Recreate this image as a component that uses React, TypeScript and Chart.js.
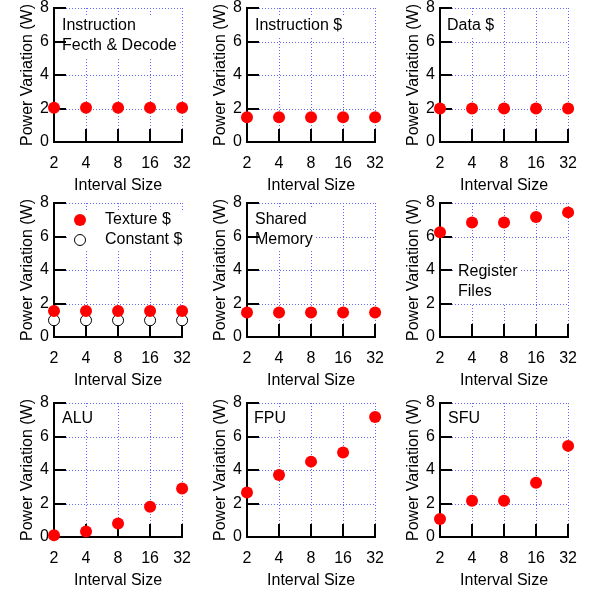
import React, { useEffect, useRef } from 'react';
import { Chart, registerables } from 'chart.js';

Chart.register(...registerables);

// ---- data ----
const intervalSizes = ['2', '4', '8', '16', '32'];
const yTickMin = 0;
const yTickMax = 8;
const yTickStep = 2;

const instrFetchDecode = [2.05, 2.05, 2.05, 2.05, 2.05];
const instrCache = [1.48, 1.48, 1.48, 1.48, 1.48];
const dataCache = [2.0, 2.0, 2.0, 2.0, 2.0];
const textureCache = [1.55, 1.55, 1.55, 1.55, 1.55];
const constantCache = [1.0, 1.0, 1.0, 1.0, 1.0];
const sharedMemory = [1.46, 1.46, 1.46, 1.46, 1.46];
const registerFiles = [6.25, 6.83, 6.83, 7.16, 7.44];
const aluValues = [0.1, 0.33, 0.8, 1.8, 2.9];
const fpuValues = [2.66, 3.7, 4.5, 5.04, 7.16];
const sfuValues = [1.08, 2.16, 2.16, 3.24, 5.44];

// ---- layout / style ----
const FONT = '"Liberation Sans", Arial, Helvetica, sans-serif';
const colAxisX = [54, 247, 440];
const rowTopY = [8, 203, 403];
const plotW = 135;
const plotH = 134;
const yAxisW = 46;
const xAxisH = 56;
const padTop = 16;
const padRight = 14;
const GRID = 'rgb(100,100,255)';
const RED = '#ff0000';

type Series = { label: string; data: number[]; hollow?: boolean };
type PanelDef = {
  col: number;
  row: number;
  series: Series[];
  note?: string[];
  noteX?: number;
  noteY?: number;
  legend?: boolean;
  legendX?: number;
  legendY?: number;
};

const panels: PanelDef[] = [
  { col: 0, row: 0, series: [{ label: 'Instruction Fecth & Decode', data: instrFetchDecode }], note: ['Instruction', 'Fecth & Decode'], noteX: 8, noteY: 18 },
  { col: 1, row: 0, series: [{ label: 'Instruction $', data: instrCache }], note: ['Instruction $'], noteX: 8, noteY: 18 },
  { col: 2, row: 0, series: [{ label: 'Data $', data: dataCache }], note: ['Data $'], noteX: 7, noteY: 18 },
  {
    col: 0, row: 1,
    series: [
      { label: 'Texture $', data: textureCache },
      { label: 'Constant $', data: constantCache, hollow: true },
    ],
    legend: true, legendX: 26, legendY: 17,
  },
  { col: 1, row: 1, series: [{ label: 'Shared Memory', data: sharedMemory }], note: ['Shared', 'Memory'], noteX: 8, noteY: 17 },
  { col: 2, row: 1, series: [{ label: 'Register Files', data: registerFiles }], note: ['Register', 'Files'], noteX: 18, noteY: 69 },
  { col: 0, row: 2, series: [{ label: 'ALU', data: aluValues }], note: ['ALU'], noteX: 8, noteY: 16 },
  { col: 1, row: 2, series: [{ label: 'FPU', data: fpuValues }], note: ['FPU'], noteX: 7, noteY: 16 },
  { col: 2, row: 2, series: [{ label: 'SFU', data: sfuValues }], note: ['SFU'], noteX: 8, noteY: 16 },
];

function seg(ctx: CanvasRenderingContext2D, x1: number, y1: number, x2: number, y2: number) {
  ctx.beginPath();
  ctx.moveTo(x1, y1);
  ctx.lineTo(x2, y2);
  ctx.stroke();
}

const decorPlugin = {
  id: 'decor',
  beforeDatasetsDraw(chart: any, _args: any, opts: any) {
    const { ctx, chartArea: ca, scales } = chart;
    const xs = scales.x;
    const ys = scales.y;
    const left = Math.round(ca.left);
    const right = Math.round(ca.right);
    const top = Math.round(ca.top);
    const bottom = Math.round(ca.bottom);
    ctx.save();

    // dotted grid
    ctx.setLineDash([1, 2]);
    ctx.lineWidth = 1;
    ctx.strokeStyle = GRID;
    xs.ticks.forEach((_t: any, i: number) => {
      if (i === 0) return;
      const px = Math.round(xs.getPixelForTick(i)) + 0.5;
      seg(ctx, px, top, px, bottom);
    });
    ys.ticks.forEach((t: any, i: number) => {
      if (t.value === yTickMin) return;
      const py = Math.round(ys.getPixelForTick(i)) + 0.5;
      seg(ctx, left, py, right + 1, py);
    });
    ctx.setLineDash([]);

    ctx.font = `16px ${FONT}`;
    ctx.textBaseline = 'middle';
    ctx.textAlign = 'left';
    const lh = 20;

    if (opts.note) {
      const lines: string[] = opts.note;
      const x = ca.left + opts.noteX;
      const y0 = ca.top + opts.noteY;
      const w = Math.max(...lines.map((l) => ctx.measureText(l).width));
      ctx.fillStyle = '#fff';
      ctx.fillRect(x - 3, y0 - 11, w + 6, (lines.length - 1) * lh + 22);
      ctx.fillStyle = '#000';
      lines.forEach((l, i) => ctx.fillText(l, x, y0 + i * lh));
    }

    if (opts.legend) {
      const dsets = chart.data.datasets;
      const sx = ca.left + opts.legendX;
      const sy = ca.top + opts.legendY;
      const tx = sx + 25;
      const w = Math.max(...dsets.map((d: any) => ctx.measureText(d.label).width));
      ctx.fillStyle = '#fff';
      ctx.fillRect(sx - 13, sy - 10, tx + w + 8 - (sx - 13), (dsets.length - 1) * lh + 20);
      dsets.forEach((d: any, i: number) => {
        const y = sy + i * lh;
        ctx.beginPath();
        ctx.arc(sx, y, d.pointRadius, 0, Math.PI * 2);
        ctx.fillStyle = d.pointBackgroundColor;
        ctx.fill();
        if (d.pointBorderWidth > 0) {
          ctx.lineWidth = d.pointBorderWidth;
          ctx.strokeStyle = d.pointBorderColor;
          ctx.stroke();
        }
        ctx.fillStyle = '#000';
        ctx.fillText(d.label, tx, y);
      });
    }

    // axes (left + bottom) and inner tick marks
    ctx.strokeStyle = '#000';
    ctx.lineWidth = 2;
    ctx.lineCap = 'butt';
    seg(ctx, left, top - 1, left, bottom + 1);
    seg(ctx, left - 1, bottom, right + 1, bottom);
    xs.ticks.forEach((_t: any, i: number) => {
      const px = Math.round(xs.getPixelForTick(i));
      seg(ctx, px, bottom, px, bottom - 13);
    });
    ys.ticks.forEach((_t: any, i: number) => {
      const py = Math.round(ys.getPixelForTick(i));
      seg(ctx, left, py, left + 12, py);
    });
    ctx.restore();
  },
};

function Panel({ def }: { def: PanelDef }) {
  const ref = useRef<HTMLCanvasElement>(null);
  useEffect(() => {
    if (!ref.current) return;
    const chart = new Chart(ref.current, {
      type: 'line',
      data: {
        labels: intervalSizes,
        datasets: def.series.map((s) => ({
          label: s.label,
          data: s.data,
          showLine: false,
          clip: false,
          pointRadius: s.hollow ? 5.5 : 6,
          pointHoverRadius: s.hollow ? 5.5 : 6,
          pointBackgroundColor: s.hollow ? '#ffffff' : RED,
          pointBorderColor: s.hollow ? '#000000' : RED,
          pointBorderWidth: s.hollow ? 1 : 0,
          backgroundColor: s.hollow ? '#ffffff' : RED,
          borderColor: s.hollow ? '#000000' : RED,
        })),
      },
      options: {
        responsive: false,
        animation: false,
        events: [],
        devicePixelRatio: 1,
        layout: { padding: { top: padTop, right: padRight, left: 0, bottom: 0 } },
        plugins: {
          legend: { display: false },
          tooltip: { enabled: false },
          decor: {
            note: def.note,
            noteX: def.noteX,
            noteY: def.noteY,
            legend: def.legend,
            legendX: def.legendX,
            legendY: def.legendY,
          },
        } as any,
        scales: {
          x: {
            type: 'category',
            offset: false,
            grid: { display: false, drawTicks: false },
            border: { display: false },
            ticks: { color: '#000', font: { family: FONT, size: 16 }, padding: 12, autoSkip: false, maxRotation: 0 },
            title: { display: true, text: 'Interval Size', color: '#000', font: { family: FONT, size: 16 }, padding: { top: 0, bottom: 3 } },
            afterFit(s: any) { s.height = xAxisH; },
          },
          y: {
            min: yTickMin,
            max: yTickMax,
            grid: { display: false, drawTicks: false },
            border: { display: false },
            ticks: { stepSize: yTickStep, color: '#000', font: { family: FONT, size: 16 }, padding: 5 },
            title: { display: true, text: 'Power Variation (W)', color: '#000', font: { family: FONT, size: 16 }, padding: { top: 10, bottom: 0 } },
            afterFit(s: any) { s.width = yAxisW; },
          },
        },
      } as any,
      plugins: [decorPlugin],
    });
    return () => chart.destroy();
  }, [def]);

  const w = yAxisW + plotW + padRight;
  const h = padTop + plotH + xAxisH;
  return (
    <div style={{ position: 'absolute', left: colAxisX[def.col] - yAxisW, top: rowTopY[def.row] - padTop, width: w, height: h }}>
      <canvas ref={ref} width={w} height={h} style={{ display: 'block', width: w, height: h }} />
    </div>
  );
}

export default function App() {
  return (
    <div style={{ position: 'absolute', left: 0, top: 0, width: 592, height: 590, overflow: 'hidden', background: '#fff' }}>
      {panels.map((p, i) => (
        <Panel key={i} def={p} />
      ))}
    </div>
  );
}
